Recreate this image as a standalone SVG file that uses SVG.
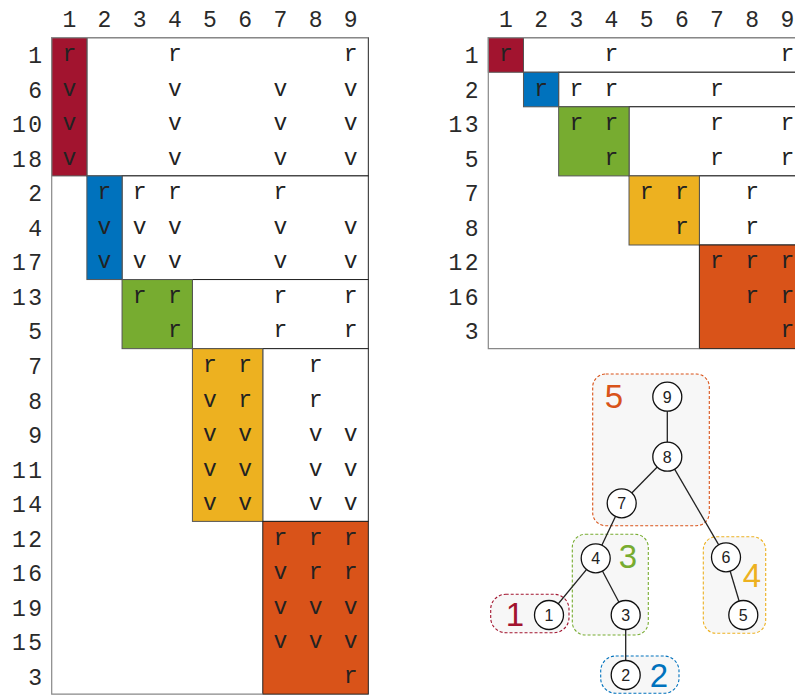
<svg xmlns="http://www.w3.org/2000/svg" width="795" height="695" viewBox="0 0 795 695">
<style>
.lab{font-family:"Liberation Mono","DejaVu Sans Mono",monospace;font-size:23px;fill:#2a2a2a}
.rl{text-anchor:end;letter-spacing:2.5px}
.cl{text-anchor:middle}
.e{font-family:"Liberation Mono","DejaVu Sans Mono",monospace;font-size:23px;fill:#222;text-anchor:middle}
.blk{stroke:#555;stroke-width:1}
.off{fill:#fff;stroke:#222;stroke-width:1}
.outer{fill:none;stroke:#888;stroke-width:1.2}
.grp{fill:#f7f7f7;stroke-width:1.1;stroke-dasharray:3 2}
.gl{font-family:"Liberation Sans","DejaVu Sans",sans-serif;font-size:33px;text-anchor:middle}
.nd{fill:#fff;stroke:#111;stroke-width:1.3}
.nt{font-family:"Liberation Sans","DejaVu Sans",sans-serif;font-size:16px;fill:#222;text-anchor:middle}
.edge{stroke:#222;stroke-width:1.3}
</style>
<rect width="795" height="695" fill="#fff"/>

<!-- LEFT MATRIX -->
<g id="left-matrix">
  <rect x="51.7" y="37.7" width="316.6" height="656.45" fill="#fff"/>
  <rect class="off" x="86.88" y="37.7" width="281.44" height="138.2"/>
  <rect class="off" x="122.06" y="175.9" width="246.26" height="103.65"/>
  <rect class="off" x="192.42" y="279.55" width="175.9" height="69.1"/>
  <rect class="off" x="262.78" y="348.65" width="105.54" height="172.75"/>
  <rect class="blk" x="51.7" y="37.7" width="35.18" height="138.2" fill="#A2142F"/>
  <rect class="blk" x="86.88" y="175.9" width="35.18" height="103.65" fill="#0072BD"/>
  <rect class="blk" x="122.06" y="279.55" width="70.36" height="69.1" fill="#77AC30"/>
  <rect class="blk" x="192.42" y="348.65" width="70.36" height="172.75" fill="#EDB120"/>
  <rect x="262.78" y="521.4" width="105.54" height="172.75" fill="#D95319" stroke="#222" stroke-width="1"/>
  <path class="outer" d="M368.32 37.7 H51.7 V694.15 H262.78"/>
  <g class="lab cl">
    <text x="69.3" y="27">1</text><text x="104.5" y="27">2</text><text x="139.7" y="27">3</text>
    <text x="174.8" y="27">4</text><text x="210" y="27">5</text><text x="245.2" y="27">6</text>
    <text x="280.4" y="27">7</text><text x="315.6" y="27">8</text><text x="350.7" y="27">9</text>
  </g>
  <g class="lab rl">
    <text x="44.5" y="63">1</text><text x="44.5" y="97.5">6</text><text x="44.5" y="132.1">10</text>
    <text x="44.5" y="166.6">18</text><text x="44.5" y="201.2">2</text><text x="44.5" y="235.7">4</text>
    <text x="44.5" y="270.3">17</text><text x="44.5" y="304.8">13</text><text x="44.5" y="339.4">5</text>
    <text x="44.5" y="373.9">7</text><text x="44.5" y="408.5">8</text><text x="44.5" y="443">9</text>
    <text x="44.5" y="477.6">11</text><text x="44.5" y="512.1">14</text><text x="44.5" y="546.7">12</text>
    <text x="44.5" y="581.2">16</text><text x="44.5" y="615.8">19</text><text x="44.5" y="650.3">15</text>
    <text x="44.5" y="684.9">3</text>
  </g>
  <g class="e">
    <text x="69.3" y="61">r</text><text x="174.8" y="61">r</text><text x="350.7" y="61">r</text>
    <text x="69.3" y="95.5">v</text><text x="174.8" y="95.5">v</text><text x="280.4" y="95.5">v</text><text x="350.7" y="95.5">v</text>
    <text x="69.3" y="130.1">v</text><text x="174.8" y="130.1">v</text><text x="280.4" y="130.1">v</text><text x="350.7" y="130.1">v</text>
    <text x="69.3" y="164.6">v</text><text x="174.8" y="164.6">v</text><text x="280.4" y="164.6">v</text><text x="350.7" y="164.6">v</text>
    <text x="104.5" y="199.2">r</text><text x="139.7" y="199.2">r</text><text x="174.8" y="199.2">r</text><text x="280.4" y="199.2">r</text>
    <text x="104.5" y="233.7">v</text><text x="139.7" y="233.7">v</text><text x="174.8" y="233.7">v</text><text x="280.4" y="233.7">v</text><text x="350.7" y="233.7">v</text>
    <text x="104.5" y="268.3">v</text><text x="139.7" y="268.3">v</text><text x="174.8" y="268.3">v</text><text x="280.4" y="268.3">v</text><text x="350.7" y="268.3">v</text>
    <text x="139.7" y="302.8">r</text><text x="174.8" y="302.8">r</text><text x="280.4" y="302.8">r</text><text x="350.7" y="302.8">r</text>
    <text x="174.8" y="337.4">r</text><text x="280.4" y="337.4">r</text><text x="350.7" y="337.4">r</text>
    <text x="210" y="371.9">r</text><text x="245.2" y="371.9">r</text><text x="315.6" y="371.9">r</text>
    <text x="210" y="406.5">v</text><text x="245.2" y="406.5">r</text><text x="315.6" y="406.5">r</text>
    <text x="210" y="441">v</text><text x="245.2" y="441">v</text><text x="315.6" y="441">v</text><text x="350.7" y="441">v</text>
    <text x="210" y="475.6">v</text><text x="245.2" y="475.6">v</text><text x="315.6" y="475.6">v</text><text x="350.7" y="475.6">v</text>
    <text x="210" y="510.1">v</text><text x="245.2" y="510.1">v</text><text x="315.6" y="510.1">v</text><text x="350.7" y="510.1">v</text>
    <text x="280.4" y="544.7">r</text><text x="315.6" y="544.7">r</text><text x="350.7" y="544.7">r</text>
    <text x="280.4" y="579.2">v</text><text x="315.6" y="579.2">r</text><text x="350.7" y="579.2">r</text>
    <text x="280.4" y="613.8">v</text><text x="315.6" y="613.8">v</text><text x="350.7" y="613.8">v</text>
    <text x="280.4" y="648.3">v</text><text x="315.6" y="648.3">v</text><text x="350.7" y="648.3">v</text>
    <text x="350.7" y="682.9">r</text>
  </g>
</g>

<!-- RIGHT MATRIX -->
<g id="right-matrix">
  <rect x="488.3" y="37.7" width="316.6" height="310.95" fill="#fff"/>
  <rect class="off" x="523.48" y="37.7" width="281.44" height="34.55"/>
  <rect class="off" x="558.66" y="72.25" width="246.26" height="34.55"/>
  <rect class="off" x="629.02" y="106.8" width="175.9" height="69.1"/>
  <rect class="off" x="699.38" y="175.9" width="105.54" height="69.1"/>
  <rect class="blk" x="488.3" y="37.7" width="35.18" height="34.55" fill="#A2142F"/>
  <rect class="blk" x="523.48" y="72.25" width="35.18" height="34.55" fill="#0072BD"/>
  <rect class="blk" x="558.66" y="106.8" width="70.36" height="69.1" fill="#77AC30"/>
  <rect class="blk" x="629.02" y="175.9" width="70.36" height="69.1" fill="#EDB120"/>
  <rect x="699.38" y="245" width="105.54" height="103.65" fill="#D95319" stroke="#222" stroke-width="1"/>
  <path class="outer" d="M804.92 37.7 H488.3 V348.65 H699.38"/>
  <g class="lab cl">
    <text x="505.9" y="27">1</text><text x="541.1" y="27">2</text><text x="576.3" y="27">3</text>
    <text x="611.4" y="27">4</text><text x="646.6" y="27">5</text><text x="681.8" y="27">6</text>
    <text x="717" y="27">7</text><text x="752.2" y="27">8</text><text x="787.3" y="27">9</text>
  </g>
  <g class="lab rl">
    <text x="481" y="63">1</text><text x="481" y="97.5">2</text><text x="481" y="132.1">13</text>
    <text x="481" y="166.6">5</text><text x="481" y="201.2">7</text><text x="481" y="235.7">8</text>
    <text x="481" y="270.3">12</text><text x="481" y="304.8">16</text><text x="481" y="339.4">3</text>
  </g>
  <g class="e">
    <text x="505.9" y="61">r</text><text x="611.4" y="61">r</text><text x="787.3" y="61">r</text>
    <text x="541.1" y="95.5">r</text><text x="576.3" y="95.5">r</text><text x="611.4" y="95.5">r</text><text x="717" y="95.5">r</text>
    <text x="576.3" y="130.1">r</text><text x="611.4" y="130.1">r</text><text x="717" y="130.1">r</text><text x="787.3" y="130.1">r</text>
    <text x="611.4" y="164.6">r</text><text x="717" y="164.6">r</text><text x="787.3" y="164.6">r</text>
    <text x="646.6" y="199.2">r</text><text x="681.8" y="199.2">r</text><text x="752.2" y="199.2">r</text>
    <text x="681.8" y="233.7">r</text><text x="752.2" y="233.7">r</text>
    <text x="717" y="268.3">r</text><text x="752.2" y="268.3">r</text><text x="787.3" y="268.3">r</text>
    <text x="752.2" y="302.8">r</text><text x="787.3" y="302.8">r</text>
    <text x="787.3" y="337.4">r</text>
  </g>
</g>

<!-- TREE: group boxes -->
<g id="group-5"><rect class="grp" x="592.7" y="374" width="116.6" height="151.7" rx="13" stroke="#D95319"/><text class="gl" x="614" y="408" fill="#D95319">5</text></g>
<g id="group-3"><rect class="grp" x="572.3" y="534.3" width="76" height="100.7" rx="13" stroke="#77AC30"/><text class="gl" x="628" y="568" fill="#77AC30">3</text></g>
<g id="group-4"><rect class="grp" x="703.3" y="536.7" width="62.4" height="96.6" rx="13" stroke="#EDB120"/><text class="gl" x="752" y="587" fill="#EDB120">4</text></g>
<g id="group-1"><rect class="grp" x="490.7" y="594.3" width="78.3" height="38.4" rx="15" stroke="#A2142F"/><text class="gl" x="515" y="626" fill="#A2142F">1</text></g>
<g id="group-2"><rect class="grp" x="600.7" y="656" width="78.3" height="37.3" rx="15" stroke="#0072BD"/><text class="gl" x="659" y="687" fill="#0072BD">2</text></g>

<!-- TREE: connectors -->
<g id="connectors">
  <line class="edge" x1="667.3" y1="396.7" x2="667.3" y2="456.7"/>
  <line class="edge" x1="667.3" y1="456.7" x2="621.7" y2="503.3"/>
  <line class="edge" x1="667.3" y1="456.7" x2="726" y2="557.3"/>
  <line class="edge" x1="621.7" y1="503.3" x2="595.7" y2="558.3"/>
  <line class="edge" x1="595.7" y1="558.3" x2="549" y2="615"/>
  <line class="edge" x1="595.7" y1="558.3" x2="625.7" y2="615"/>
  <line class="edge" x1="625.7" y1="615" x2="625.7" y2="675"/>
  <line class="edge" x1="726" y1="557.3" x2="743.3" y2="615"/>
</g>

<!-- TREE: nodes -->
<g id="node-9"><circle class="nd" cx="667.3" cy="396.7" r="14.5"/><text class="nt" x="667.3" y="402.5">9</text></g>
<g id="node-8"><circle class="nd" cx="667.3" cy="456.7" r="14.5"/><text class="nt" x="667.3" y="462.5">8</text></g>
<g id="node-7"><circle class="nd" cx="621.7" cy="503.3" r="14.5"/><text class="nt" x="621.7" y="509.1">7</text></g>
<g id="node-4"><circle class="nd" cx="595.7" cy="558.3" r="14.5"/><text class="nt" x="595.7" y="564.1">4</text></g>
<g id="node-1"><circle class="nd" cx="549" cy="615" r="14.5"/><text class="nt" x="549" y="620.8">1</text></g>
<g id="node-3"><circle class="nd" cx="625.7" cy="615" r="14.5"/><text class="nt" x="625.7" y="620.8">3</text></g>
<g id="node-2"><circle class="nd" cx="625.7" cy="675" r="14.5"/><text class="nt" x="625.7" y="680.8">2</text></g>
<g id="node-6"><circle class="nd" cx="726" cy="557.3" r="14.5"/><text class="nt" x="726" y="563.1">6</text></g>
<g id="node-5"><circle class="nd" cx="743.3" cy="615" r="14.5"/><text class="nt" x="743.3" y="620.8">5</text></g>
</svg>
